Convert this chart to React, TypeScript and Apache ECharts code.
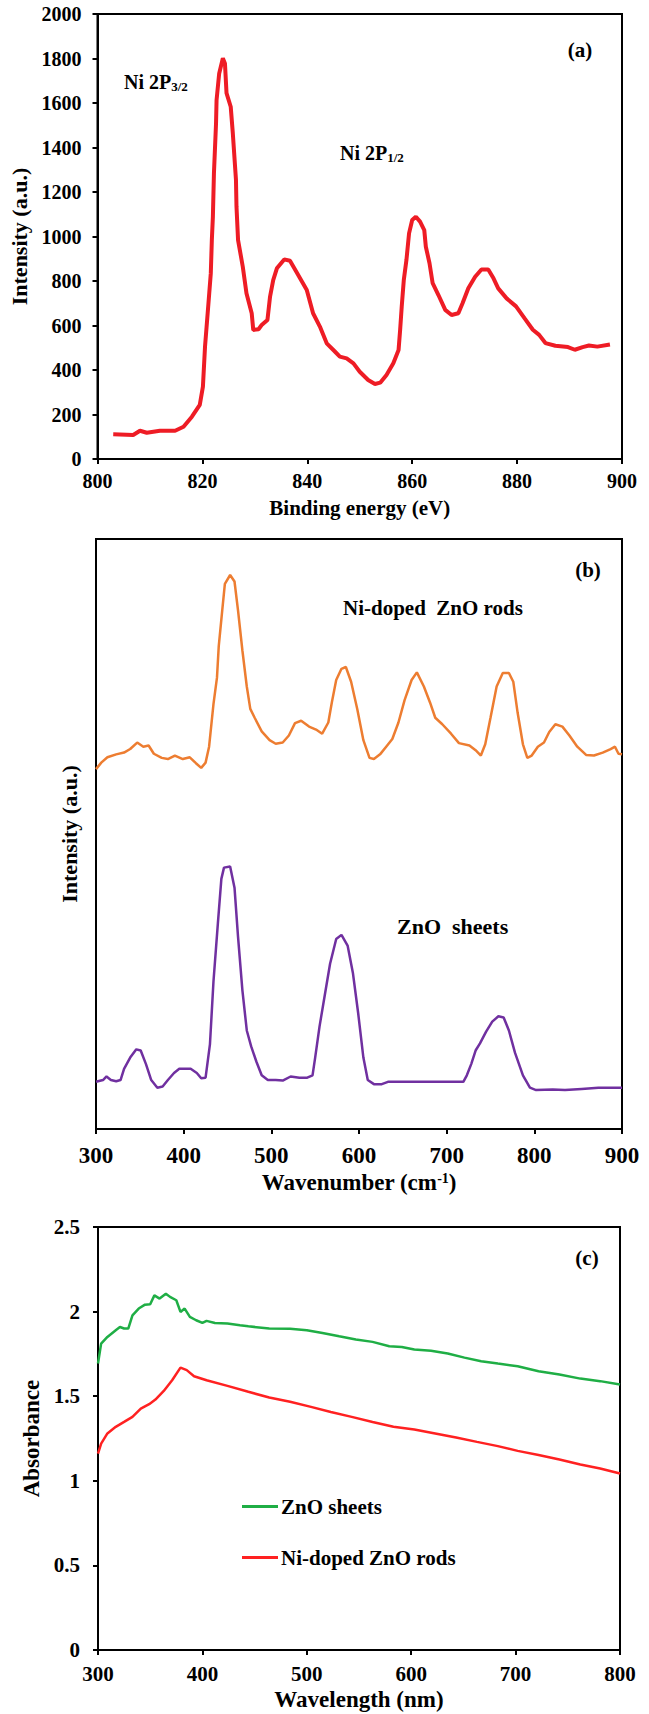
import React, { useEffect, useRef } from "react";
import * as echarts from "echarts";

// ---------- (a) XPS Ni 2p ----------
const xpsEnergy = [803, 806.8, 808.1, 809.4, 811.9, 814.8, 816.4, 818, 819.5, 820.1, 820.5, 821.1, 821.6, 821.8, 822, 822.2, 822.6, 822.7, 823.2, 823.9, 824.3, 824.6, 825.4, 825.8, 826.4, 826.5, 826.8, 827.7, 828.4, 829.4, 829.7, 830.7, 831.3, 832.4, 832.9, 833.5, 834.2, 835.6, 836.7, 838.1, 839.9, 841.1, 842.4, 843.7, 845.3, 846.2, 847.5, 848.8, 850, 851.6, 852.9, 853.9, 855.1, 856.4, 857.4, 857.7, 858, 858.4, 858.9, 859.4, 860, 860.7, 861.5, 862.3, 862.6, 863.3, 863.9, 865, 866.3, 867.5, 868.8, 869.6, 870.7, 872, 873.2, 874.5, 875.5, 876.4, 878, 879.8, 881.4, 883, 884.2, 885.4, 887.3, 889.7, 891, 892.5, 893.7, 895.3, 897.7];
const xpsIntensity = [111, 108, 127, 118, 127, 127, 145, 190, 243, 325, 505, 684, 834, 984, 1089, 1284, 1509, 1613, 1733, 1801, 1778, 1644, 1583, 1464, 1254, 1134, 984, 864, 745, 655, 580, 583, 602, 625, 730, 804, 857, 897, 891, 834, 760, 655, 595, 520, 482, 460, 452, 430, 392, 355, 337, 343, 378, 430, 490, 580, 684, 805, 894, 1014, 1074, 1089, 1067, 1029, 954, 880, 790, 737, 670, 647, 655, 700, 767, 819, 852, 852, 812, 767, 722, 686, 633, 581, 558, 521, 509, 503, 491, 503, 510, 505, 515];

// ---------- (b) Raman ----------
const ramanRodsShift = [300, 306, 313, 323, 332, 339, 347, 354, 360, 366, 375, 382, 390, 399, 407, 414, 420, 425, 429, 434, 438, 440, 444, 447, 453, 458, 462, 467, 472, 476, 481, 489, 498, 505, 513, 520, 527, 534, 543, 551, 558, 565, 569, 574, 580, 585, 591, 598, 605, 612, 617, 624, 631, 638, 645, 652, 660, 666, 674, 681, 687, 695, 705, 714, 726, 733, 739, 744, 750, 757, 764, 771, 776, 781, 787, 792, 797, 804, 811, 817, 824, 832, 840, 849, 859, 868, 878, 887, 892, 896, 900];
const ramanRodsIntensity = [61.0, 62.1, 63.0, 63.5, 63.8, 64.4, 65.5, 64.8, 65.0, 63.6, 62.9, 62.7, 63.3, 62.7, 63.0, 62.0, 61.2, 62.1, 64.8, 72.0, 76.5, 81.8, 87.9, 92.4, 93.9, 92.8, 87.9, 81.1, 75.0, 71.2, 69.7, 67.4, 65.9, 65.3, 65.5, 66.7, 68.8, 69.2, 68.2, 67.7, 67.0, 68.9, 72.3, 76.1, 78.0, 78.3, 75.8, 71.2, 65.9, 62.9, 62.7, 63.5, 64.8, 66.1, 68.9, 72.7, 76.1, 77.4, 75.0, 72.3, 69.7, 68.6, 67.0, 65.4, 65.0, 64.2, 63.3, 65.2, 69.7, 75.0, 77.3, 77.3, 75.8, 70.5, 65.2, 62.9, 63.3, 64.8, 65.5, 67.3, 68.6, 68.2, 66.7, 64.8, 63.4, 63.3, 63.8, 64.4, 64.8, 63.6, 63.5];
const ramanSheetsShift = [300, 308, 312, 317, 323, 328, 332, 339, 346, 351, 357, 363, 370, 376, 382, 389, 395, 408, 415, 420, 425, 430, 434, 439, 443, 446, 453, 458, 462, 467, 472, 477, 483, 489, 496, 505, 513, 522, 532, 541, 547, 550, 555, 561, 567, 574, 580, 587, 593, 599, 605, 610, 617, 626, 633, 664, 688, 719, 723, 728, 733, 738, 745, 752, 759, 765, 771, 778, 787, 795, 802, 821, 835, 854, 873, 900];
const ramanSheetsIntensity = [8.0, 8.3, 8.9, 8.3, 8.1, 8.3, 10.2, 12.1, 13.5, 13.3, 11.0, 8.3, 7.0, 7.2, 8.3, 9.5, 10.2, 10.2, 9.5, 8.6, 8.7, 14.4, 25.0, 34.8, 42.4, 44.3, 44.5, 40.9, 32.6, 23.5, 16.7, 14.0, 11.4, 9.1, 8.3, 8.3, 8.2, 8.9, 8.7, 8.7, 9.1, 12.1, 17.4, 22.7, 28.0, 32.2, 32.9, 31.1, 26.5, 19.7, 12.1, 8.3, 7.6, 7.6, 8.0, 8.0, 8.0, 8.0, 9.1, 11.0, 13.3, 14.5, 16.5, 18.2, 19.1, 18.9, 16.7, 12.9, 9.1, 7.0, 6.6, 6.7, 6.6, 6.8, 7.0, 7.0];

// ---------- (c) UV-Vis ----------
const uvSheetsWavelength = [300, 303, 309, 317, 321, 325, 329, 333, 339, 345, 350, 354, 359, 365, 369, 375, 379, 383, 388, 394, 400, 404, 412, 424, 436, 444, 464, 484, 500, 515, 531, 547, 563, 579, 591, 603, 619, 635, 651, 667, 683, 702, 722, 742, 762, 781, 800];
const uvSheetsAbsorbance = [1.693, 1.811, 1.850, 1.890, 1.909, 1.900, 1.900, 1.978, 2.018, 2.041, 2.043, 2.096, 2.077, 2.106, 2.087, 2.067, 1.998, 2.018, 1.969, 1.949, 1.933, 1.945, 1.933, 1.929, 1.919, 1.913, 1.900, 1.898, 1.890, 1.874, 1.854, 1.835, 1.821, 1.795, 1.791, 1.776, 1.768, 1.752, 1.728, 1.707, 1.693, 1.677, 1.648, 1.628, 1.604, 1.589, 1.569];
const uvRodsWavelength = [300, 303, 309, 317, 325, 333, 341, 349, 355, 363, 371, 379, 385, 392, 404, 424, 444, 464, 484, 504, 523, 543, 563, 583, 603, 623, 643, 663, 683, 702, 722, 742, 762, 781, 800];
const uvRodsAbsorbance = [1.161, 1.220, 1.280, 1.319, 1.348, 1.378, 1.427, 1.453, 1.480, 1.531, 1.594, 1.669, 1.654, 1.618, 1.594, 1.561, 1.526, 1.492, 1.467, 1.437, 1.407, 1.378, 1.348, 1.319, 1.303, 1.280, 1.256, 1.230, 1.205, 1.177, 1.152, 1.126, 1.096, 1.073, 1.043];

// legend names
const legendNames = ["ZnO sheets", "Ni-doped ZnO rods"];

const zip = (xs: number[], ys: number[]) => xs.map((x, i) => [x, ys[i]]);

const FONT = "'Liberation Serif', 'Times New Roman', serif";

function axisBase(labelSize: number, margin: number) {
  return {
    type: "value" as const,
    axisLine: { show: true, onZero: false, lineStyle: { color: "#000", width: 2 } },
    axisTick: { show: true, inside: false, length: 5, lineStyle: { color: "#000", width: 2 } },
    axisLabel: {
      color: "#000",
      fontFamily: FONT,
      fontWeight: "bold",
      fontSize: labelSize,
      margin,
      formatter: (v: number) => String(v),
    },
    splitLine: { show: false },
    nameLocation: "middle" as const,
  };
}

export default function App() {
  const ref = useRef<HTMLDivElement>(null);

  useEffect(() => {
    if (!ref.current) return;
    const chart = echarts.init(ref.current, undefined, { renderer: "svg" });

    const nameStyle = (size: number) => ({
      color: "#000",
      fontFamily: FONT,
      fontWeight: "bold",
      fontSize: size,
    });

    const option: any = {
      animation: false,
      backgroundColor: "#fff",
      grid: [
        { left: 97.5, top: 14, width: 524.5, height: 445, show: true, borderColor: "#000", borderWidth: 2 },
        { left: 96, top: 539, width: 526, height: 590, show: true, borderColor: "#000", borderWidth: 2 },
        { left: 98, top: 1227, width: 522, height: 423, show: true, borderColor: "#000", borderWidth: 2 },
      ],
      xAxis: [
        {
          ...axisBase(20, 12),
          gridIndex: 0,
          min: 800,
          max: 900,
          interval: 20,
          name: "Binding energy (eV)",
          nameGap: 38,
          nameTextStyle: nameStyle(21),
        },
        {
          ...axisBase(23, 15),
          gridIndex: 1,
          min: 300,
          max: 900,
          interval: 100,
          name: "Wavenumber (cm{sup|-1})",
          nameGap: 42,
          nameTextStyle: {
            ...nameStyle(23),
            rich: { sup: { fontFamily: FONT, fontWeight: "bold", fontSize: 14, verticalAlign: "top", color: "#000" } },
          },
        },
        {
          ...axisBase(21, 13),
          gridIndex: 2,
          min: 300,
          max: 800,
          interval: 100,
          name: "Wavelength (nm)",
          nameGap: 38,
          nameTextStyle: nameStyle(23),
        },
      ],
      yAxis: [
        {
          ...axisBase(20, 16),
          gridIndex: 0,
          min: 0,
          max: 2000,
          interval: 200,
          name: "Intensity (a.u.)",
          nameGap: 63,
          nameTextStyle: nameStyle(22),
        },
        {
          ...axisBase(20, 16),
          gridIndex: 1,
          min: 0,
          max: 100,
          axisTick: { show: false },
          axisLabel: { show: false },
          name: "Intensity (a.u.)",
          nameGap: 16,
          nameTextStyle: nameStyle(22),
        },
        {
          ...axisBase(21, 18),
          gridIndex: 2,
          min: 0,
          max: 2.5,
          interval: 0.5,
          name: "Absorbance",
          nameGap: 53,
          nameTextStyle: nameStyle(23),
        },
      ],
      legend: {
        orient: "vertical",
        left: 242,
        top: 1496,
        padding: 0,
        itemGap: 30,
        itemWidth: 36,
        itemHeight: 3,
        icon: "rect",
        data: legendNames,
        textStyle: { color: "#000", fontFamily: FONT, fontWeight: "bold", fontSize: 21, padding: [0, 0, 0, -2] },
      },
      series: [
        {
          type: "line",
          name: "XPS Ni 2p",
          xAxisIndex: 0,
          yAxisIndex: 0,
          data: zip(xpsEnergy, xpsIntensity),
          showSymbol: false,
          lineStyle: { color: "#ee1c25", width: 4 },
          itemStyle: { color: "#ee1c25" },
        },
        {
          type: "line",
          name: "Raman Ni-doped ZnO rods",
          xAxisIndex: 1,
          yAxisIndex: 1,
          data: zip(ramanRodsShift, ramanRodsIntensity),
          showSymbol: false,
          lineStyle: { color: "#ed7d31", width: 2.5 },
          itemStyle: { color: "#ed7d31" },
        },
        {
          type: "line",
          name: "Raman ZnO sheets",
          xAxisIndex: 1,
          yAxisIndex: 1,
          data: zip(ramanSheetsShift, ramanSheetsIntensity),
          showSymbol: false,
          lineStyle: { color: "#7030a0", width: 2.5 },
          itemStyle: { color: "#7030a0" },
        },
        {
          type: "line",
          name: legendNames[0],
          xAxisIndex: 2,
          yAxisIndex: 2,
          data: zip(uvSheetsWavelength, uvSheetsAbsorbance),
          showSymbol: false,
          lineStyle: { color: "#1fae45", width: 2.5 },
          itemStyle: { color: "#1fae45" },
        },
        {
          type: "line",
          name: legendNames[1],
          xAxisIndex: 2,
          yAxisIndex: 2,
          data: zip(uvRodsWavelength, uvRodsAbsorbance),
          showSymbol: false,
          lineStyle: { color: "#ff2121", width: 2.5 },
          itemStyle: { color: "#ff2121" },
        },
      ],
      graphic: [
        {
          type: "text",
          x: 580,
          y: 50,
          style: { text: "(a)", fontFamily: FONT, fontWeight: "bold", fontSize: 21, fill: "#000", align: "center", verticalAlign: "middle" },
        },
        {
          type: "text",
          x: 124,
          y: 82,
          style: {
            text: "{m|Ni 2P}{s|3/2}",
            fill: "#000",
            verticalAlign: "middle",
            rich: {
              m: { fontFamily: FONT, fontWeight: "bold", fontSize: 20, lineHeight: 22, fill: "#000" },
              s: { fontFamily: FONT, fontWeight: "bold", fontSize: 13, verticalAlign: "bottom", fill: "#000" },
            },
          },
        },
        {
          type: "text",
          x: 340,
          y: 153,
          style: {
            text: "{m|Ni 2P}{s|1/2}",
            fill: "#000",
            verticalAlign: "middle",
            rich: {
              m: { fontFamily: FONT, fontWeight: "bold", fontSize: 20, lineHeight: 22, fill: "#000" },
              s: { fontFamily: FONT, fontWeight: "bold", fontSize: 13, verticalAlign: "bottom", fill: "#000" },
            },
          },
        },
        {
          type: "text",
          x: 588,
          y: 570,
          style: { text: "(b)", fontFamily: FONT, fontWeight: "bold", fontSize: 21, fill: "#000", align: "center", verticalAlign: "middle" },
        },
        {
          type: "text",
          x: 343,
          y: 608,
          style: { text: "Ni-doped  ZnO rods", fontFamily: FONT, fontWeight: "bold", fontSize: 21, fill: "#000", verticalAlign: "middle" },
        },
        {
          type: "text",
          x: 397,
          y: 926,
          style: { text: "ZnO  sheets", fontFamily: FONT, fontWeight: "bold", fontSize: 22, fill: "#000", verticalAlign: "middle" },
        },
        {
          type: "text",
          x: 587,
          y: 1258,
          style: { text: "(c)", fontFamily: FONT, fontWeight: "bold", fontSize: 21, fill: "#000", align: "center", verticalAlign: "middle" },
        },
      ],
    };

    chart.setOption(option);
    return () => chart.dispose();
  }, []);

  return (
    <div
      ref={ref}
      style={{ position: "absolute", left: 0, top: 0, width: 649, height: 1714, background: "#fff" }}
    />
  );
}
